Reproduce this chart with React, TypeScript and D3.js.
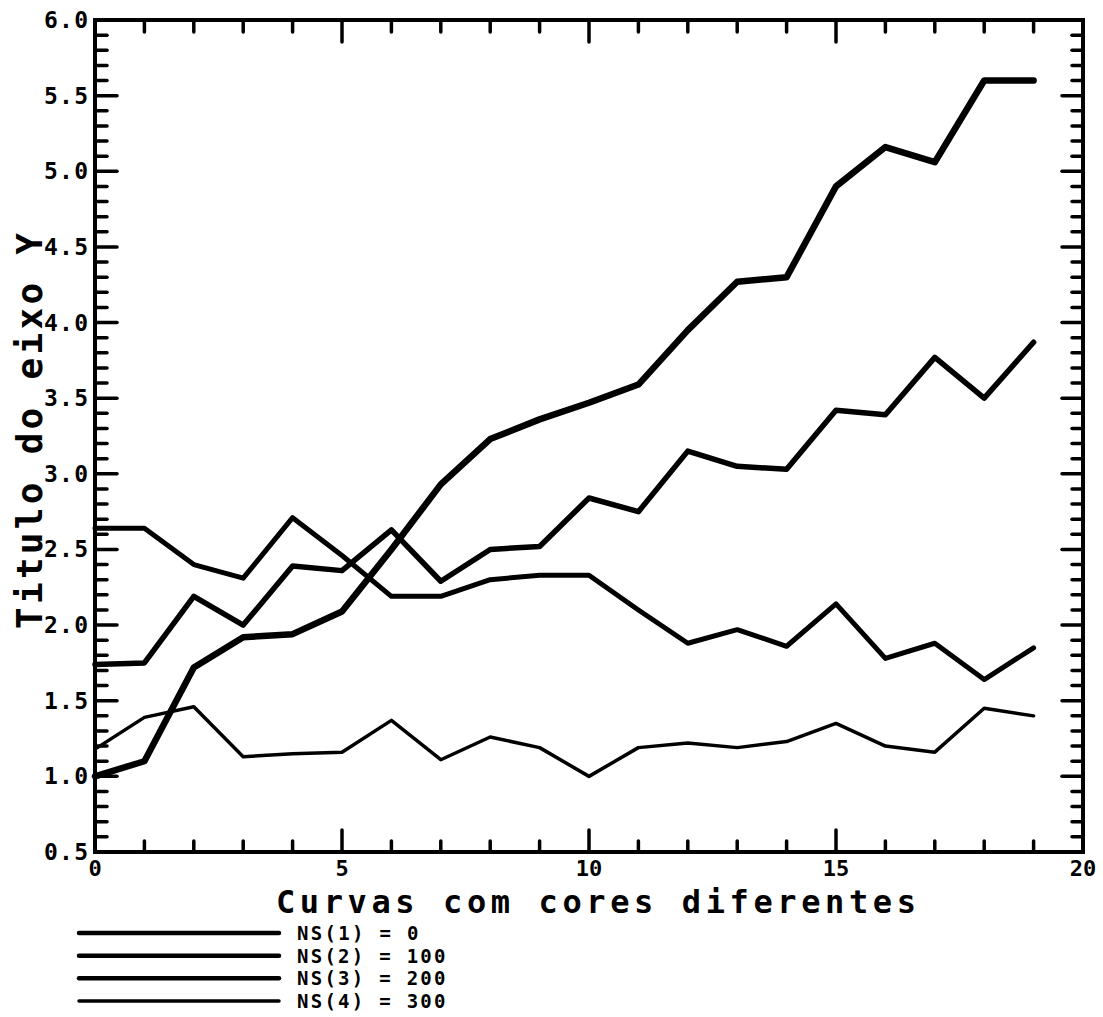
import React, { useEffect, useRef } from 'react';
import * as d3 from 'd3';

// x positions of the points
const xValues = d3.range(0, 20);

// series values
const ns1 = [1.0, 1.1, 1.72, 1.92, 1.94, 2.09, 2.5, 2.93, 3.23, 3.36, 3.47, 3.59, 3.95, 4.27, 4.3, 4.9, 5.16, 5.06, 5.6, 5.6];
const ns2 = [1.74, 1.75, 2.19, 2.0, 2.39, 2.36, 2.63, 2.29, 2.5, 2.52, 2.84, 2.75, 3.15, 3.05, 3.03, 3.42, 3.39, 3.77, 3.5, 3.87];
const ns3 = [2.64, 2.64, 2.4, 2.31, 2.71, 2.46, 2.19, 2.19, 2.3, 2.33, 2.33, 2.1, 1.88, 1.97, 1.86, 2.14, 1.78, 1.88, 1.64, 1.85];
const ns4 = [1.18, 1.39, 1.46, 1.13, 1.15, 1.16, 1.37, 1.11, 1.26, 1.19, 1.0, 1.19, 1.22, 1.19, 1.23, 1.35, 1.2, 1.16, 1.45, 1.4];

const seriesNames = ['NS(1)', 'NS(2)', 'NS(3)', 'NS(4)'];
const seriesLabels = ['0', '100', '200', '300'];
const seriesWidths = [6.5, 5.5, 5, 3.5];

const xTickLabels = [0, 5, 10, 15, 20];
const yTickLabels = [0.5, 1.0, 1.5, 2.0, 2.5, 3.0, 3.5, 4.0, 4.5, 5.0, 5.5, 6.0];

const xTitle = 'Curvas com cores diferentes';
const yTitle = 'Titulo do eixo Y';

const FONT = '"DejaVu Sans Mono", monospace';

const App = () => {
  const svgRef = useRef(null);

  useEffect(() => {
    const width = 1103;
    const height = 1017;
    const margin = { top: 20, right: 20, bottom: 165, left: 95 };

    const svg = d3.select(svgRef.current);
    svg.selectAll('*').remove();
    svg.attr('width', width).attr('height', height).attr('viewBox', [0, 0, width, height]);

    svg.append('rect').attr('width', width).attr('height', height).attr('fill', 'white');

    const x = d3.scaleLinear().domain([0, 20]).range([margin.left, width - margin.right]);
    const y = d3.scaleLinear().domain([0.5, 6]).range([height - margin.bottom, margin.top]);

    const x0 = x.range()[0], x1 = x.range()[1];
    const y0 = y.range()[0], y1 = y.range()[1];

    // ticks
    const xMinor = d3.range(0, 21);
    const yMinor = d3.range(5, 61).map(d => d / 10);
    const isMajorX = d => d % 5 === 0;
    const isMajorY = d => Math.abs(d * 2 - Math.round(d * 2)) < 1e-6;

    const ticks = svg.append('g')
    .attr('stroke', 'black')
    .attr('stroke-width', 3.5)
    .attr('stroke-linecap', 'round');

    // bottom and top
    ticks.selectAll('.xb')
    .data(xMinor)
    .join('line')
    .attr('x1', d => x(d)).attr('x2', d => x(d))
    .attr('y1', y0).attr('y2', d => y0 - (isMajorX(d) ? 22 : 11));

    ticks.selectAll('.xt')
    .data(xMinor)
    .enter().append('line')
    .attr('x1', d => x(d)).attr('x2', d => x(d))
    .attr('y1', y1).attr('y2', d => y1 + (isMajorX(d) ? 22 : 12));

    // left and right
    ticks.selectAll('.yl')
    .data(yMinor)
    .enter().append('line')
    .attr('y1', d => y(d)).attr('y2', d => y(d))
    .attr('x1', x0).attr('x2', d => x0 + (isMajorY(d) ? 22 : 12));

    ticks.selectAll('.yr')
    .data(yMinor)
    .enter().append('line')
    .attr('y1', d => y(d)).attr('y2', d => y(d))
    .attr('x1', x1).attr('x2', d => x1 - (isMajorY(d) ? 21 : 11));

    // frame
    svg.append('rect')
    .attr('x', x0).attr('y', y1)
    .attr('width', x1 - x0).attr('height', y0 - y1)
    .attr('fill', 'none')
    .attr('stroke', 'black')
    .attr('stroke-width', 4);

    // tick labels
    svg.append('g')
    .selectAll('text')
    .data(yTickLabels)
    .join('text')
    .attr('x', x0 - 7)
    .attr('y', d => y(d) + 8)
    .attr('text-anchor', 'end')
    .attr('font-family', FONT)
    .attr('font-weight', 'bold')
    .attr('font-size', 23)
    .attr('textLength', 44)
    .attr('lengthAdjust', 'spacing')
    .text(d => d.toFixed(1));

    svg.append('g')
    .selectAll('text')
    .data(xTickLabels)
    .join('text')
    .attr('x', d => x(d))
    .attr('y', y0 + 24)
    .attr('text-anchor', 'middle')
    .attr('font-family', FONT)
    .attr('font-weight', 'bold')
    .attr('font-size', 22)
    .text(d => d);

    // axis titles
    svg.append('text')
    .attr('x', 596)
    .attr('y', 913)
    .attr('text-anchor', 'middle')
    .attr('font-family', FONT)
    .attr('font-weight', 'bold')
    .attr('font-size', 32)
    .attr('textLength', 640)
    .attr('lengthAdjust', 'spacing')
    .text(xTitle);

    svg.append('text')
    .attr('transform', 'translate(42,431) rotate(-90)')
    .attr('text-anchor', 'middle')
    .attr('font-family', FONT)
    .attr('font-weight', 'bold')
    .attr('font-size', 36)
    .attr('textLength', 396)
    .attr('lengthAdjust', 'spacing')
    .text(yTitle);

    // lines
    const series = [ns1, ns2, ns3, ns4];
    const line = d3.line()
    .x((d, i) => x(xValues[i]))
    .y(d => y(d));

    svg.append('g')
    .selectAll('path')
    .data(series)
    .join('path')
    .attr('fill', 'none')
    .attr('stroke', 'black')
    .attr('stroke-width', (d, i) => seriesWidths[i])
    .attr('stroke-linejoin', 'round')
    .attr('stroke-linecap', 'round')
    .attr('d', line);

    // legend
    const legendY = d3.scaleLinear().domain([0, 3]).range([933, 1001]);
    const legend = svg.append('g')
    .selectAll('g')
    .data(seriesNames)
    .join('g')
    .attr('transform', (d, i) => `translate(0,${legendY(i)})`);

    legend.append('line')
    .attr('x1', 79).attr('x2', 279)
    .attr('stroke', 'black')
    .attr('stroke-width', (d, i) => (i === 3 ? 3.5 : 4.5))
    .attr('stroke-linecap', 'round');

    legend.append('text')
    .attr('x', 297)
    .attr('y', 7)
    .attr('font-family', FONT)
    .attr('font-weight', 'bold')
    .attr('font-size', 19)
    .attr('textLength', (d, i) => `${d} = ${seriesLabels[i]}`.length * 13.5)
    .attr('lengthAdjust', 'spacing')
    .attr('xml:space', 'preserve')
    .style('white-space', 'pre')
    .text((d, i) => `${d} = ${seriesLabels[i]}`);
  });

  return (
    <svg ref={svgRef} style={{ position: 'absolute', left: 0, top: 0 }}></svg>
  );
};

export default App;
